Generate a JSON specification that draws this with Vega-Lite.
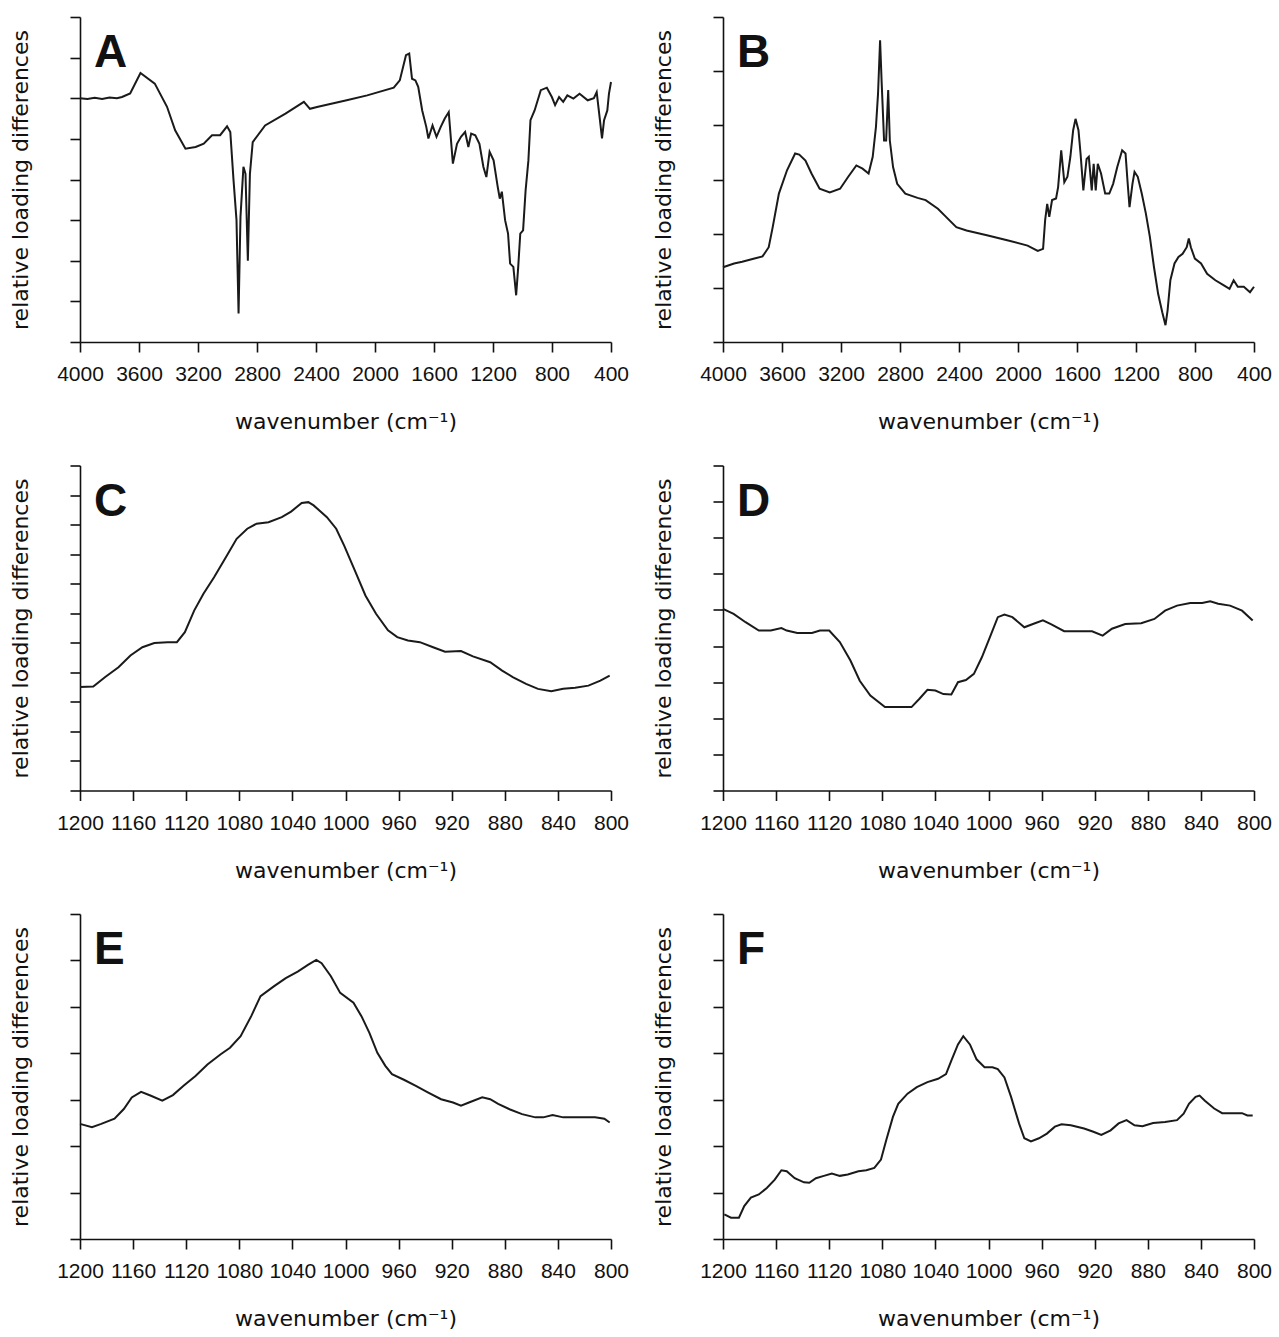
{
  "$schema": "https://vega.github.io/schema/vega-lite/v6.json",
  "padding": {"left": 9, "top": 16, "right": 5, "bottom": 5},
  "background": "white",
  "bounds": "flush",
  "columns": 2,
  "spacing": {"row": 123.5, "column": 112},
  "config": {
    "view": {"stroke": null},
    "axis": {
      "grid": false,
      "domainColor": "#111111",
      "domainWidth": 1.6,
      "tickColor": "#111111",
      "tickWidth": 1.6,
      "tickSize": 10,
      "labelFont": "Liberation Sans",
      "labelFontSize": 21,
      "labelColor": "#111111",
      "labelPadding": 11.5,
      "labelFlush": false,
      "labelOverlap": false,
      "titleFont": "DejaVu Sans",
      "titleFontSize": 22,
      "titleFontWeight": "normal",
      "titleColor": "#111111"
    },
    "axisX": {"titlePadding": 27},
    "axisY": {"labels": false, "titlePadding": 37},
    "line": {"stroke": "#1a1a1a", "strokeWidth": 2},
    "title": {
      "font": "Liberation Sans",
      "fontSize": 46,
      "fontWeight": "bold",
      "color": "#111111",
      "anchor": "start",
      "frame": "group",
      "offset": -61,
      "baseline": "alphabetic",
      "dx": 14
    }
  },
  "datasets": {
    "A": [
      {"wavenumber": 4000, "loading": 0}, {"wavenumber": 3950, "loading": -0.02}, {"wavenumber": 3900, "loading": 0.01}, {"wavenumber": 3850, "loading": -0.02}, {"wavenumber": 3800, "loading": 0.02}, {"wavenumber": 3750, "loading": 0.0}, {"wavenumber": 3715, "loading": 0.03}, {"wavenumber": 3660, "loading": 0.12}, {"wavenumber": 3590, "loading": 0.62}, {"wavenumber": 3493, "loading": 0.36}, {"wavenumber": 3410, "loading": -0.21}, {"wavenumber": 3355, "loading": -0.79}, {"wavenumber": 3285, "loading": -1.24}, {"wavenumber": 3216, "loading": -1.2}, {"wavenumber": 3161, "loading": -1.12}, {"wavenumber": 3105, "loading": -0.91}, {"wavenumber": 3050, "loading": -0.91}, {"wavenumber": 3003, "loading": -0.69}, {"wavenumber": 2981, "loading": -0.83}, {"wavenumber": 2959, "loading": -2.02}, {"wavenumber": 2939, "loading": -3.0}, {"wavenumber": 2925, "loading": -5.3}, {"wavenumber": 2912, "loading": -2.92}, {"wavenumber": 2892, "loading": -1.69}, {"wavenumber": 2878, "loading": -1.86}, {"wavenumber": 2862, "loading": -4.0}, {"wavenumber": 2848, "loading": -1.86}, {"wavenumber": 2829, "loading": -1.08}, {"wavenumber": 2745, "loading": -0.67}, {"wavenumber": 2607, "loading": -0.38}, {"wavenumber": 2482, "loading": -0.09}, {"wavenumber": 2441, "loading": -0.26}, {"wavenumber": 2386, "loading": -0.21}, {"wavenumber": 2192, "loading": -0.05}, {"wavenumber": 2053, "loading": 0.07}, {"wavenumber": 1873, "loading": 0.26}, {"wavenumber": 1832, "loading": 0.44}, {"wavenumber": 1790, "loading": 1.06}, {"wavenumber": 1768, "loading": 1.1}, {"wavenumber": 1749, "loading": 0.48}, {"wavenumber": 1726, "loading": 0.44}, {"wavenumber": 1707, "loading": 0.28}, {"wavenumber": 1680, "loading": -0.3}, {"wavenumber": 1652, "loading": -0.71}, {"wavenumber": 1638, "loading": -0.99}, {"wavenumber": 1610, "loading": -0.67}, {"wavenumber": 1583, "loading": -0.95}, {"wavenumber": 1555, "loading": -0.71}, {"wavenumber": 1527, "loading": -0.5}, {"wavenumber": 1500, "loading": -0.34}, {"wavenumber": 1472, "loading": -1.61}, {"wavenumber": 1444, "loading": -1.12}, {"wavenumber": 1417, "loading": -0.95}, {"wavenumber": 1389, "loading": -0.83}, {"wavenumber": 1367, "loading": -1.2}, {"wavenumber": 1348, "loading": -0.87}, {"wavenumber": 1320, "loading": -0.91}, {"wavenumber": 1292, "loading": -1.12}, {"wavenumber": 1265, "loading": -1.69}, {"wavenumber": 1245, "loading": -1.94}, {"wavenumber": 1223, "loading": -1.32}, {"wavenumber": 1196, "loading": -1.53}, {"wavenumber": 1168, "loading": -2.18}, {"wavenumber": 1154, "loading": -2.47}, {"wavenumber": 1140, "loading": -2.3}, {"wavenumber": 1118, "loading": -3.0}, {"wavenumber": 1098, "loading": -3.33}, {"wavenumber": 1084, "loading": -4.07}, {"wavenumber": 1062, "loading": -4.15}, {"wavenumber": 1043, "loading": -4.85}, {"wavenumber": 1029, "loading": -4.15}, {"wavenumber": 1015, "loading": -3.33}, {"wavenumber": 996, "loading": -3.25}, {"wavenumber": 979, "loading": -2.27}, {"wavenumber": 960, "loading": -1.53}, {"wavenumber": 946, "loading": -0.54}, {"wavenumber": 918, "loading": -0.3}, {"wavenumber": 876, "loading": 0.2}, {"wavenumber": 835, "loading": 0.26}, {"wavenumber": 801, "loading": 0.03}, {"wavenumber": 779, "loading": -0.17}, {"wavenumber": 752, "loading": 0.03}, {"wavenumber": 724, "loading": -0.09}, {"wavenumber": 696, "loading": 0.07}, {"wavenumber": 655, "loading": -0.01}, {"wavenumber": 613, "loading": 0.11}, {"wavenumber": 558, "loading": -0.05}, {"wavenumber": 516, "loading": 0}, {"wavenumber": 497, "loading": 0.15}, {"wavenumber": 475, "loading": -0.54}, {"wavenumber": 461, "loading": -0.99}, {"wavenumber": 447, "loading": -0.54}, {"wavenumber": 425, "loading": -0.3}, {"wavenumber": 414, "loading": 0.11}, {"wavenumber": 400, "loading": 0.4}
    ],
    "B": [
      {"wavenumber": 4000, "loading": 1.38}, {"wavenumber": 3925, "loading": 1.45}, {"wavenumber": 3870, "loading": 1.48}, {"wavenumber": 3787, "loading": 1.54}, {"wavenumber": 3732, "loading": 1.58}, {"wavenumber": 3690, "loading": 1.75}, {"wavenumber": 3663, "loading": 2.12}, {"wavenumber": 3621, "loading": 2.74}, {"wavenumber": 3566, "loading": 3.17}, {"wavenumber": 3511, "loading": 3.48}, {"wavenumber": 3483, "loading": 3.46}, {"wavenumber": 3441, "loading": 3.35}, {"wavenumber": 3400, "loading": 3.11}, {"wavenumber": 3345, "loading": 2.83}, {"wavenumber": 3276, "loading": 2.76}, {"wavenumber": 3206, "loading": 2.83}, {"wavenumber": 3151, "loading": 3.05}, {"wavenumber": 3096, "loading": 3.26}, {"wavenumber": 3054, "loading": 3.2}, {"wavenumber": 3013, "loading": 3.11}, {"wavenumber": 2985, "loading": 3.42}, {"wavenumber": 2963, "loading": 3.97}, {"wavenumber": 2949, "loading": 4.58}, {"wavenumber": 2935, "loading": 5.57}, {"wavenumber": 2924, "loading": 4.77}, {"wavenumber": 2908, "loading": 3.72}, {"wavenumber": 2894, "loading": 3.72}, {"wavenumber": 2880, "loading": 4.65}, {"wavenumber": 2869, "loading": 3.72}, {"wavenumber": 2847, "loading": 3.23}, {"wavenumber": 2819, "loading": 2.92}, {"wavenumber": 2764, "loading": 2.74}, {"wavenumber": 2681, "loading": 2.66}, {"wavenumber": 2626, "loading": 2.62}, {"wavenumber": 2543, "loading": 2.46}, {"wavenumber": 2488, "loading": 2.31}, {"wavenumber": 2418, "loading": 2.12}, {"wavenumber": 2349, "loading": 2.06}, {"wavenumber": 2211, "loading": 1.97}, {"wavenumber": 2073, "loading": 1.88}, {"wavenumber": 1935, "loading": 1.78}, {"wavenumber": 1866, "loading": 1.68}, {"wavenumber": 1830, "loading": 1.72}, {"wavenumber": 1816, "loading": 2.25}, {"wavenumber": 1802, "loading": 2.55}, {"wavenumber": 1788, "loading": 2.31}, {"wavenumber": 1769, "loading": 2.62}, {"wavenumber": 1742, "loading": 2.65}, {"wavenumber": 1728, "loading": 2.86}, {"wavenumber": 1707, "loading": 3.54}, {"wavenumber": 1686, "loading": 2.95}, {"wavenumber": 1665, "loading": 3.05}, {"wavenumber": 1645, "loading": 3.42}, {"wavenumber": 1626, "loading": 3.91}, {"wavenumber": 1610, "loading": 4.12}, {"wavenumber": 1590, "loading": 3.91}, {"wavenumber": 1576, "loading": 3.48}, {"wavenumber": 1557, "loading": 2.8}, {"wavenumber": 1535, "loading": 3.38}, {"wavenumber": 1520, "loading": 3.42}, {"wavenumber": 1500, "loading": 2.8}, {"wavenumber": 1487, "loading": 3.29}, {"wavenumber": 1473, "loading": 2.8}, {"wavenumber": 1459, "loading": 3.29}, {"wavenumber": 1437, "loading": 3.11}, {"wavenumber": 1409, "loading": 2.74}, {"wavenumber": 1381, "loading": 2.74}, {"wavenumber": 1355, "loading": 2.92}, {"wavenumber": 1327, "loading": 3.23}, {"wavenumber": 1294, "loading": 3.54}, {"wavenumber": 1271, "loading": 3.48}, {"wavenumber": 1257, "loading": 2.95}, {"wavenumber": 1244, "loading": 2.49}, {"wavenumber": 1224, "loading": 2.92}, {"wavenumber": 1210, "loading": 3.14}, {"wavenumber": 1188, "loading": 3.05}, {"wavenumber": 1161, "loading": 2.74}, {"wavenumber": 1133, "loading": 2.37}, {"wavenumber": 1106, "loading": 1.94}, {"wavenumber": 1078, "loading": 1.38}, {"wavenumber": 1050, "loading": 0.89}, {"wavenumber": 1022, "loading": 0.55}, {"wavenumber": 1000, "loading": 0.31}, {"wavenumber": 986, "loading": 0.58}, {"wavenumber": 967, "loading": 1.14}, {"wavenumber": 939, "loading": 1.45}, {"wavenumber": 912, "loading": 1.57}, {"wavenumber": 884, "loading": 1.63}, {"wavenumber": 856, "loading": 1.75}, {"wavenumber": 842, "loading": 1.91}, {"wavenumber": 828, "loading": 1.75}, {"wavenumber": 801, "loading": 1.54}, {"wavenumber": 759, "loading": 1.45}, {"wavenumber": 718, "loading": 1.26}, {"wavenumber": 662, "loading": 1.14}, {"wavenumber": 607, "loading": 1.05}, {"wavenumber": 566, "loading": 0.98}, {"wavenumber": 538, "loading": 1.14}, {"wavenumber": 510, "loading": 1.02}, {"wavenumber": 469, "loading": 1.02}, {"wavenumber": 427, "loading": 0.92}, {"wavenumber": 400, "loading": 1.02}
    ],
    "C": [
      {"wavenumber": 1200, "loading": 3.5}, {"wavenumber": 1190, "loading": 3.52}, {"wavenumber": 1181, "loading": 3.84}, {"wavenumber": 1171, "loading": 4.17}, {"wavenumber": 1162, "loading": 4.57}, {"wavenumber": 1153, "loading": 4.85}, {"wavenumber": 1144, "loading": 4.99}, {"wavenumber": 1134, "loading": 5.02}, {"wavenumber": 1127, "loading": 5.02}, {"wavenumber": 1121, "loading": 5.36}, {"wavenumber": 1114, "loading": 6.09}, {"wavenumber": 1107, "loading": 6.66}, {"wavenumber": 1099, "loading": 7.22}, {"wavenumber": 1090, "loading": 7.9}, {"wavenumber": 1082, "loading": 8.52}, {"wavenumber": 1074, "loading": 8.86}, {"wavenumber": 1067, "loading": 9.03}, {"wavenumber": 1058, "loading": 9.08}, {"wavenumber": 1048, "loading": 9.25}, {"wavenumber": 1041, "loading": 9.44}, {"wavenumber": 1033, "loading": 9.73}, {"wavenumber": 1028, "loading": 9.76}, {"wavenumber": 1024, "loading": 9.65}, {"wavenumber": 1014, "loading": 9.25}, {"wavenumber": 1007, "loading": 8.86}, {"wavenumber": 1001, "loading": 8.29}, {"wavenumber": 993, "loading": 7.45}, {"wavenumber": 985, "loading": 6.6}, {"wavenumber": 977, "loading": 5.98}, {"wavenumber": 968, "loading": 5.42}, {"wavenumber": 961, "loading": 5.19}, {"wavenumber": 953, "loading": 5.08}, {"wavenumber": 944, "loading": 5.02}, {"wavenumber": 934, "loading": 4.85}, {"wavenumber": 925, "loading": 4.7}, {"wavenumber": 913, "loading": 4.72}, {"wavenumber": 904, "loading": 4.54}, {"wavenumber": 891, "loading": 4.34}, {"wavenumber": 882, "loading": 4.06}, {"wavenumber": 874, "loading": 3.84}, {"wavenumber": 864, "loading": 3.61}, {"wavenumber": 855, "loading": 3.44}, {"wavenumber": 845, "loading": 3.36}, {"wavenumber": 836, "loading": 3.44}, {"wavenumber": 827, "loading": 3.48}, {"wavenumber": 817, "loading": 3.55}, {"wavenumber": 808, "loading": 3.72}, {"wavenumber": 801, "loading": 3.89}
    ],
    "D": [
      {"wavenumber": 1200, "loading": 5.03}, {"wavenumber": 1192, "loading": 4.89}, {"wavenumber": 1183, "loading": 4.66}, {"wavenumber": 1173, "loading": 4.43}, {"wavenumber": 1164, "loading": 4.43}, {"wavenumber": 1156, "loading": 4.5}, {"wavenumber": 1152, "loading": 4.43}, {"wavenumber": 1144, "loading": 4.36}, {"wavenumber": 1133, "loading": 4.36}, {"wavenumber": 1127, "loading": 4.43}, {"wavenumber": 1120, "loading": 4.43}, {"wavenumber": 1112, "loading": 4.11}, {"wavenumber": 1104, "loading": 3.6}, {"wavenumber": 1097, "loading": 3.04}, {"wavenumber": 1089, "loading": 2.63}, {"wavenumber": 1078, "loading": 2.31}, {"wavenumber": 1069, "loading": 2.31}, {"wavenumber": 1058, "loading": 2.31}, {"wavenumber": 1052, "loading": 2.54}, {"wavenumber": 1046, "loading": 2.79}, {"wavenumber": 1040, "loading": 2.77}, {"wavenumber": 1034, "loading": 2.67}, {"wavenumber": 1028, "loading": 2.66}, {"wavenumber": 1023, "loading": 3.0}, {"wavenumber": 1017, "loading": 3.06}, {"wavenumber": 1011, "loading": 3.23}, {"wavenumber": 1005, "loading": 3.69}, {"wavenumber": 999, "loading": 4.24}, {"wavenumber": 993, "loading": 4.8}, {"wavenumber": 988, "loading": 4.87}, {"wavenumber": 982, "loading": 4.8}, {"wavenumber": 973, "loading": 4.52}, {"wavenumber": 965, "loading": 4.63}, {"wavenumber": 959, "loading": 4.71}, {"wavenumber": 953, "loading": 4.61}, {"wavenumber": 943, "loading": 4.41}, {"wavenumber": 934, "loading": 4.41}, {"wavenumber": 922, "loading": 4.41}, {"wavenumber": 914, "loading": 4.29}, {"wavenumber": 907, "loading": 4.48}, {"wavenumber": 897, "loading": 4.61}, {"wavenumber": 885, "loading": 4.63}, {"wavenumber": 875, "loading": 4.75}, {"wavenumber": 867, "loading": 4.98}, {"wavenumber": 858, "loading": 5.12}, {"wavenumber": 848, "loading": 5.19}, {"wavenumber": 839, "loading": 5.19}, {"wavenumber": 833, "loading": 5.24}, {"wavenumber": 827, "loading": 5.17}, {"wavenumber": 818, "loading": 5.12}, {"wavenumber": 809, "loading": 4.98}, {"wavenumber": 801, "loading": 4.71}
    ],
    "E": [
      {"wavenumber": 1200, "loading": 2.48}, {"wavenumber": 1191, "loading": 2.41}, {"wavenumber": 1184, "loading": 2.48}, {"wavenumber": 1174, "loading": 2.59}, {"wavenumber": 1167, "loading": 2.8}, {"wavenumber": 1161, "loading": 3.05}, {"wavenumber": 1154, "loading": 3.17}, {"wavenumber": 1147, "loading": 3.09}, {"wavenumber": 1138, "loading": 2.98}, {"wavenumber": 1130, "loading": 3.1}, {"wavenumber": 1122, "loading": 3.3}, {"wavenumber": 1113, "loading": 3.51}, {"wavenumber": 1104, "loading": 3.76}, {"wavenumber": 1094, "loading": 3.98}, {"wavenumber": 1087, "loading": 4.12}, {"wavenumber": 1079, "loading": 4.37}, {"wavenumber": 1071, "loading": 4.8}, {"wavenumber": 1064, "loading": 5.23}, {"wavenumber": 1054, "loading": 5.44}, {"wavenumber": 1045, "loading": 5.62}, {"wavenumber": 1036, "loading": 5.76}, {"wavenumber": 1028, "loading": 5.91}, {"wavenumber": 1022, "loading": 6.01}, {"wavenumber": 1018, "loading": 5.94}, {"wavenumber": 1011, "loading": 5.66}, {"wavenumber": 1004, "loading": 5.3}, {"wavenumber": 994, "loading": 5.09}, {"wavenumber": 988, "loading": 4.8}, {"wavenumber": 982, "loading": 4.44}, {"wavenumber": 976, "loading": 4.01}, {"wavenumber": 970, "loading": 3.73}, {"wavenumber": 965, "loading": 3.55}, {"wavenumber": 956, "loading": 3.43}, {"wavenumber": 947, "loading": 3.3}, {"wavenumber": 938, "loading": 3.16}, {"wavenumber": 928, "loading": 3.01}, {"wavenumber": 919, "loading": 2.94}, {"wavenumber": 913, "loading": 2.87}, {"wavenumber": 907, "loading": 2.94}, {"wavenumber": 897, "loading": 3.05}, {"wavenumber": 891, "loading": 3.01}, {"wavenumber": 885, "loading": 2.91}, {"wavenumber": 876, "loading": 2.79}, {"wavenumber": 867, "loading": 2.69}, {"wavenumber": 857, "loading": 2.62}, {"wavenumber": 851, "loading": 2.62}, {"wavenumber": 844, "loading": 2.67}, {"wavenumber": 836, "loading": 2.62}, {"wavenumber": 824, "loading": 2.62}, {"wavenumber": 812, "loading": 2.62}, {"wavenumber": 805, "loading": 2.59}, {"wavenumber": 801, "loading": 2.51}
    ],
    "F": [
      {"wavenumber": 1199, "loading": 0.53}, {"wavenumber": 1194, "loading": 0.46}, {"wavenumber": 1188, "loading": 0.46}, {"wavenumber": 1184, "loading": 0.71}, {"wavenumber": 1179, "loading": 0.89}, {"wavenumber": 1173, "loading": 0.96}, {"wavenumber": 1167, "loading": 1.1}, {"wavenumber": 1161, "loading": 1.28}, {"wavenumber": 1156, "loading": 1.48}, {"wavenumber": 1152, "loading": 1.46}, {"wavenumber": 1146, "loading": 1.31}, {"wavenumber": 1139, "loading": 1.22}, {"wavenumber": 1135, "loading": 1.21}, {"wavenumber": 1130, "loading": 1.31}, {"wavenumber": 1124, "loading": 1.36}, {"wavenumber": 1118, "loading": 1.41}, {"wavenumber": 1112, "loading": 1.36}, {"wavenumber": 1106, "loading": 1.39}, {"wavenumber": 1098, "loading": 1.46}, {"wavenumber": 1092, "loading": 1.48}, {"wavenumber": 1086, "loading": 1.53}, {"wavenumber": 1081, "loading": 1.71}, {"wavenumber": 1077, "loading": 2.13}, {"wavenumber": 1072, "loading": 2.63}, {"wavenumber": 1068, "loading": 2.91}, {"wavenumber": 1061, "loading": 3.13}, {"wavenumber": 1054, "loading": 3.27}, {"wavenumber": 1046, "loading": 3.38}, {"wavenumber": 1038, "loading": 3.45}, {"wavenumber": 1032, "loading": 3.55}, {"wavenumber": 1028, "loading": 3.84}, {"wavenumber": 1023, "loading": 4.19}, {"wavenumber": 1019, "loading": 4.37}, {"wavenumber": 1014, "loading": 4.19}, {"wavenumber": 1009, "loading": 3.87}, {"wavenumber": 1003, "loading": 3.7}, {"wavenumber": 997, "loading": 3.7}, {"wavenumber": 993, "loading": 3.66}, {"wavenumber": 988, "loading": 3.48}, {"wavenumber": 983, "loading": 3.06}, {"wavenumber": 977, "loading": 2.49}, {"wavenumber": 973, "loading": 2.17}, {"wavenumber": 968, "loading": 2.1}, {"wavenumber": 962, "loading": 2.17}, {"wavenumber": 956, "loading": 2.27}, {"wavenumber": 950, "loading": 2.42}, {"wavenumber": 945, "loading": 2.47}, {"wavenumber": 938, "loading": 2.45}, {"wavenumber": 928, "loading": 2.38}, {"wavenumber": 921, "loading": 2.31}, {"wavenumber": 915, "loading": 2.24}, {"wavenumber": 908, "loading": 2.34}, {"wavenumber": 902, "loading": 2.49}, {"wavenumber": 896, "loading": 2.56}, {"wavenumber": 890, "loading": 2.45}, {"wavenumber": 884, "loading": 2.43}, {"wavenumber": 876, "loading": 2.5}, {"wavenumber": 867, "loading": 2.52}, {"wavenumber": 858, "loading": 2.56}, {"wavenumber": 853, "loading": 2.7}, {"wavenumber": 849, "loading": 2.91}, {"wavenumber": 844, "loading": 3.06}, {"wavenumber": 841, "loading": 3.09}, {"wavenumber": 837, "loading": 2.98}, {"wavenumber": 830, "loading": 2.81}, {"wavenumber": 824, "loading": 2.71}, {"wavenumber": 815, "loading": 2.71}, {"wavenumber": 809, "loading": 2.71}, {"wavenumber": 805, "loading": 2.66}, {"wavenumber": 801, "loading": 2.66}
    ]
  },
  "concat": [
    {
      "width": 531, "height": 325,
      "title": {"text": "A"},
      "data": {"name": "A"},
      "mark": {"type": "line"},
      "encoding": {
        "x": {"field": "wavenumber", "type": "quantitative", "scale": {"domain": [400, 4000], "reverse": true, "nice": false, "zero": false}, "axis": {"values": [4000, 3600, 3200, 2800, 2400, 2000, 1600, 1200, 800, 400], "format": "d", "title": "wavenumber (cm⁻¹)"}},
        "y": {"field": "loading", "type": "quantitative", "scale": {"domain": [-6, 2], "nice": false, "zero": false}, "axis": {"values": [-6, -5, -4, -3, -2, -1, 0, 1, 2], "title": "relative loading differences"}}
      }
    },
    {
      "width": 531, "height": 325,
      "title": {"text": "B"},
      "data": {"name": "B"},
      "mark": {"type": "line"},
      "encoding": {
        "x": {"field": "wavenumber", "type": "quantitative", "scale": {"domain": [400, 4000], "reverse": true, "nice": false, "zero": false}, "axis": {"values": [4000, 3600, 3200, 2800, 2400, 2000, 1600, 1200, 800, 400], "format": "d", "title": "wavenumber (cm⁻¹)"}},
        "y": {"field": "loading", "type": "quantitative", "scale": {"domain": [0, 6], "nice": false, "zero": false}, "axis": {"values": [0, 1, 2, 3, 4, 5, 6], "title": "relative loading differences"}}
      }
    },
    {
      "width": 531, "height": 325,
      "title": {"text": "C"},
      "data": {"name": "C"},
      "mark": {"type": "line"},
      "encoding": {
        "x": {"field": "wavenumber", "type": "quantitative", "scale": {"domain": [800, 1200], "reverse": true, "nice": false, "zero": false}, "axis": {"values": [1200, 1160, 1120, 1080, 1040, 1000, 960, 920, 880, 840, 800], "format": "d", "title": "wavenumber (cm⁻¹)"}},
        "y": {"field": "loading", "type": "quantitative", "scale": {"domain": [0, 11], "nice": false, "zero": false}, "axis": {"values": [0, 1, 2, 3, 4, 5, 6, 7, 8, 9, 10, 11], "title": "relative loading differences"}}
      }
    },
    {
      "width": 531, "height": 325,
      "title": {"text": "D"},
      "data": {"name": "D"},
      "mark": {"type": "line"},
      "encoding": {
        "x": {"field": "wavenumber", "type": "quantitative", "scale": {"domain": [800, 1200], "reverse": true, "nice": false, "zero": false}, "axis": {"values": [1200, 1160, 1120, 1080, 1040, 1000, 960, 920, 880, 840, 800], "format": "d", "title": "wavenumber (cm⁻¹)"}},
        "y": {"field": "loading", "type": "quantitative", "scale": {"domain": [0, 9], "nice": false, "zero": false}, "axis": {"values": [0, 1, 2, 3, 4, 5, 6, 7, 8, 9], "title": "relative loading differences"}}
      }
    },
    {
      "width": 531, "height": 325,
      "title": {"text": "E"},
      "data": {"name": "E"},
      "mark": {"type": "line"},
      "encoding": {
        "x": {"field": "wavenumber", "type": "quantitative", "scale": {"domain": [800, 1200], "reverse": true, "nice": false, "zero": false}, "axis": {"values": [1200, 1160, 1120, 1080, 1040, 1000, 960, 920, 880, 840, 800], "format": "d", "title": "wavenumber (cm⁻¹)"}},
        "y": {"field": "loading", "type": "quantitative", "scale": {"domain": [0, 7], "nice": false, "zero": false}, "axis": {"values": [0, 1, 2, 3, 4, 5, 6, 7], "title": "relative loading differences"}}
      }
    },
    {
      "width": 531, "height": 325,
      "title": {"text": "F"},
      "data": {"name": "F"},
      "mark": {"type": "line"},
      "encoding": {
        "x": {"field": "wavenumber", "type": "quantitative", "scale": {"domain": [800, 1200], "reverse": true, "nice": false, "zero": false}, "axis": {"values": [1200, 1160, 1120, 1080, 1040, 1000, 960, 920, 880, 840, 800], "format": "d", "title": "wavenumber (cm⁻¹)"}},
        "y": {"field": "loading", "type": "quantitative", "scale": {"domain": [0, 7], "nice": false, "zero": false}, "axis": {"values": [0, 1, 2, 3, 4, 5, 6, 7], "title": "relative loading differences"}}
      }
    }
  ]
}
